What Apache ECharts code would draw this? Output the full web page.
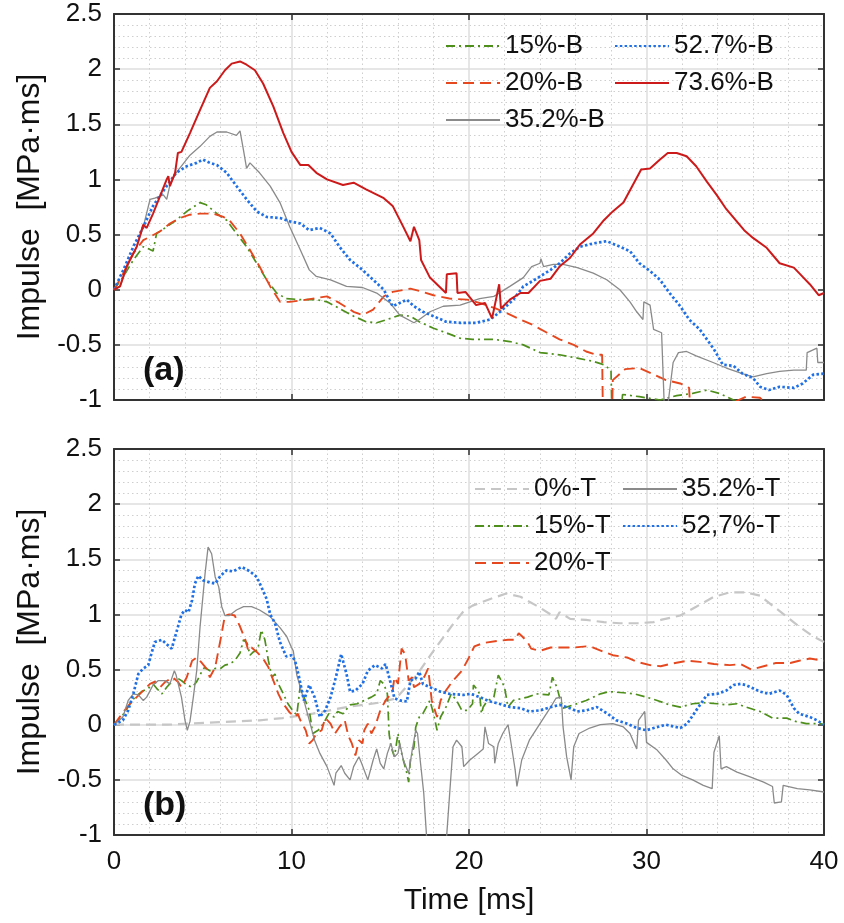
<!DOCTYPE html>
<html><head><meta charset="utf-8">
<script src="https://cdn.jsdelivr.net/npm/echarts@6/dist/echarts.min.js"></script>
<style>html,body{margin:0;padding:0;background:#fff}#c{width:844px;height:923px}</style>
</head><body><div id="c"></div>
<script>
// ---- data: [time ms, impulse MPa·ms] ----
const B15 = [[0,0],[0.53,0.12],[1.09,0.27],[1.65,0.39],[1.84,0.38],[2.2,0.35],[2.4,0.51],[2.97,0.57],[3.5,0.63],[4.1,0.71],[4.85,0.79],[5.2,0.77],[5.8,0.69],[6.35,0.63],[6.9,0.51],[7.47,0.39],[8.04,0.24],[8.6,0.09],[9.16,-0.03],[9.7,-0.08],[10.5,-0.09],[11.4,-0.09],[12.0,-0.11],[12.7,-0.17],[13.5,-0.24],[14.2,-0.29],[14.8,-0.3],[15.4,-0.27],[16.1,-0.23],[16.7,-0.24],[17.2,-0.29],[18.0,-0.35],[18.7,-0.39],[19.5,-0.44],[20.2,-0.45],[21.4,-0.45],[22.3,-0.47],[23.06,-0.5],[24.0,-0.57],[25.1,-0.59],[26.1,-0.62],[27.0,-0.65],[27.6,-0.68],[28.0,-0.73],[28.05,-1.1],[28.6,-1.05],[28.65,-0.95],[29.6,-0.97],[30.76,-1.0],[31.7,-0.96],[32.6,-0.94],[33.4,-0.91],[34.1,-0.94],[34.9,-1.0],[36,-1.05],[40,-1.1]];
const B20 = [[0,0],[0.53,0.15],[1.09,0.33],[1.65,0.45],[2.03,0.48],[2.6,0.53],[3.15,0.6],[3.7,0.65],[4.28,0.68],[4.85,0.69],[5.6,0.69],[6.16,0.66],[6.5,0.63],[7.1,0.51],[7.66,0.36],[8.2,0.21],[8.8,0.03],[9.35,-0.11],[9.9,-0.11],[10.85,-0.09],[12.0,-0.06],[12.7,-0.12],[13.5,-0.2],[14.0,-0.23],[14.6,-0.18],[15.2,-0.06],[15.7,-0.02],[16.7,0.01],[17.4,-0.02],[18.0,-0.05],[18.9,-0.08],[19.9,-0.09],[20.6,-0.12],[21.5,-0.17],[22.1,-0.21],[22.9,-0.27],[23.6,-0.32],[24.4,-0.39],[25.1,-0.45],[25.9,-0.5],[26.6,-0.56],[27.2,-0.59],[27.5,-0.59],[27.55,-1.2],[28.05,-1.2],[28.1,-0.82],[28.8,-0.72],[29.6,-0.71],[30.3,-0.76],[31.1,-0.82],[31.9,-0.85],[32.4,-0.89],[32.5,-1.2],[34.5,-1.05],[35.6,-0.97],[36.4,-0.98],[36.8,-1.05],[40,-1.15]];
const B35 = [[0,0],[0.34,0.03],[0.9,0.27],[1.28,0.39],[1.65,0.57],[2.03,0.82],[2.3,0.83],[2.78,0.86],[2.97,0.82],[3.15,0.95],[3.5,1.06],[4.28,1.22],[4.85,1.3],[5.4,1.39],[5.8,1.43],[6.35,1.43],[6.9,1.4],[7.1,1.44],[7.29,1.27],[7.47,1.1],[7.66,1.15],[8.2,1.06],[8.8,0.94],[9.35,0.79],[9.9,0.57],[10.5,0.36],[11.0,0.18],[11.4,0.12],[12.2,0.09],[13.1,0.03],[14.0,0.02],[14.8,-0.03],[15.55,-0.12],[16.1,-0.23],[16.9,-0.3],[17.2,-0.27],[17.8,-0.2],[18.55,-0.15],[19.5,-0.14],[20.6,-0.08],[21.4,-0.06],[22.3,0.03],[23.06,0.11],[23.53,0.21],[24.0,0.24],[24.05,0.28],[24.2,0.21],[24.75,0.23],[25.3,0.23],[26.1,0.2],[27.0,0.15],[27.76,0.09],[28.5,0],[29.07,-0.11],[29.45,-0.2],[29.8,-0.27],[29.85,-0.11],[30.2,-0.14],[30.4,-0.36],[30.85,-0.39],[31.0,-1.05],[31.2,-1.05],[31.5,-0.66],[31.8,-0.57],[32.26,-0.56],[32.8,-0.6],[33.75,-0.66],[34.5,-0.71],[35.4,-0.76],[36.0,-0.79],[36.77,-0.76],[37.5,-0.74],[38.3,-0.73],[39.0,-0.73],[39.05,-0.57],[39.6,-0.53],[39.65,-0.66],[40,-0.66]];
const B52 = [[0,0],[0.53,0.18],[1.09,0.39],[1.65,0.57],[2.2,0.76],[2.97,0.94],[3.5,1.06],[4.1,1.12],[4.66,1.15],[5.0,1.18],[5.4,1.15],[5.8,1.13],[6.35,1.06],[6.9,0.94],[7.47,0.82],[8.04,0.71],[8.6,0.66],[9.35,0.65],[9.9,0.62],[10.5,0.6],[11.0,0.54],[11.6,0.56],[12.2,0.51],[12.7,0.39],[13.3,0.27],[14.0,0.18],[14.6,0.09],[15.2,0],[15.7,-0.15],[16.1,-0.12],[16.5,-0.09],[16.9,-0.15],[17.4,-0.2],[18.0,-0.24],[18.7,-0.29],[19.5,-0.3],[20.4,-0.3],[21.2,-0.27],[21.75,-0.2],[22.5,-0.09],[23.06,0.03],[23.6,0.08],[24.0,0.12],[24.6,0.18],[25.1,0.24],[25.7,0.33],[26.25,0.39],[27.0,0.42],[27.76,0.44],[28.5,0.39],[29.07,0.35],[29.6,0.24],[30.2,0.17],[30.76,0.09],[31.3,-0.03],[31.9,-0.15],[32.4,-0.27],[33.0,-0.36],[33.8,-0.54],[34.3,-0.68],[34.9,-0.69],[35.4,-0.76],[36.0,-0.8],[36.4,-0.88],[36.9,-0.91],[37.5,-0.88],[38.3,-0.89],[38.8,-0.85],[39.4,-0.77],[40,-0.76]];
const B73 = [[0,0],[0.34,0.03],[0.71,0.21],[1.28,0.39],[1.65,0.59],[1.84,0.56],[2.2,0.69],[2.6,0.85],[2.97,1.0],[3.06,1.03],[3.15,0.94],[3.44,1.06],[3.6,1.24],[3.8,1.25],[4.28,1.42],[4.85,1.63],[5.4,1.83],[5.8,1.89],[6.25,1.99],[6.63,2.05],[7.1,2.07],[7.47,2.04],[7.94,1.99],[8.4,1.87],[8.98,1.66],[9.54,1.42],[10.0,1.25],[10.5,1.13],[10.95,1.13],[11.4,1.06],[12.0,1.0],[12.9,0.95],[13.5,0.97],[14.2,0.91],[15.2,0.83],[15.7,0.76],[16.3,0.57],[16.7,0.44],[16.9,0.57],[17.2,0.45],[17.3,0.27],[17.8,0.11],[18.7,-0.03],[18.75,0.14],[19.3,0.15],[19.35,-0.03],[19.8,-0.02],[20.4,-0.14],[20.9,-0.12],[21.3,-0.26],[21.7,0.05],[21.8,-0.17],[22.3,-0.09],[22.9,-0.03],[23.35,-0.03],[24.0,0.08],[24.6,0.1],[25.1,0.21],[25.7,0.29],[26.25,0.41],[27.0,0.51],[27.6,0.63],[28.1,0.71],[28.7,0.79],[29.2,0.94],[29.7,1.09],[30.2,1.1],[30.76,1.18],[31.2,1.24],[31.7,1.24],[32.26,1.21],[32.8,1.12],[33.4,0.98],[33.95,0.86],[34.5,0.73],[35.5,0.54],[36.0,0.47],[36.77,0.38],[37.5,0.24],[38.3,0.2],[38.6,0.15],[39.2,0.05],[39.7,-0.05],[40,-0.03]];

const T0 = [[0,0],[3,0],[6.9,0.03],[8.2,0.04],[9.5,0.06],[11.2,0.1],[13.1,0.16],[14.95,0.2],[15.9,0.24],[17.1,0.46],[18.0,0.67],[19.0,0.89],[19.7,1.03],[20.2,1.08],[21.2,1.14],[22.1,1.19],[22.9,1.16],[23.8,1.08],[24.6,1.0],[24.9,0.96],[25.1,1.02],[25.7,0.96],[26.6,0.95],[27.6,0.93],[28.5,0.92],[29.5,0.92],[30.4,0.93],[30.8,0.95],[31.9,0.99],[32.8,1.07],[33.8,1.16],[34.7,1.2],[35.6,1.2],[36.4,1.17],[37.1,1.08],[37.9,0.98],[38.6,0.89],[39.4,0.8],[40,0.75]];
const T15 = [[0,0],[0.6,0.11],[0.9,0.19],[1.18,0.25],[1.56,0.3],[1.93,0.33],[2.2,0.37],[2.4,0.33],[2.7,0.28],[2.97,0.34],[3.25,0.39],[3.5,0.43],[3.8,0.4],[4.1,0.36],[4.4,0.34],[4.66,0.39],[4.94,0.48],[5.1,0.52],[5.4,0.49],[5.7,0.51],[6.0,0.51],[6.25,0.54],[6.5,0.55],[6.8,0.58],[7.1,0.65],[7.3,0.77],[7.5,0.74],[7.66,0.63],[7.85,0.66],[8.1,0.68],[8.3,0.86],[8.5,0.77],[8.7,0.58],[8.9,0.43],[9.07,0.46],[9.26,0.37],[9.54,0.28],[9.8,0.19],[10.1,0.12],[10.3,0.09],[10.5,0.36],[10.7,0.25],[11.0,0.13],[11.2,-0.08],[11.5,-0.05],[11.8,0.01],[12.1,0.1],[12.4,0.07],[12.6,0.12],[12.9,0.1],[13.3,0.18],[13.7,0.19],[14.1,0.22],[14.5,0.25],[14.8,0.28],[15.0,0.4],[15.2,0.37],[15.4,0.28],[15.5,-0.08],[15.6,-0.2],[15.8,-0.29],[16.0,-0.08],[16.1,-0.19],[16.3,-0.32],[16.5,-0.44],[16.6,-0.52],[16.7,-0.32],[16.9,-0.2],[17.0,-0.02],[17.2,0.07],[17.4,0.1],[17.6,0.16],[17.8,0.22],[18.0,0.1],[18.2,-0.05],[18.4,0.07],[18.7,0.16],[19.0,0.28],[19.3,0.22],[19.6,0.13],[19.9,0.13],[20.2,0.19],[20.25,0.36],[20.4,0.33],[20.6,0.28],[20.7,0.1],[20.8,0.16],[21.0,0.21],[21.4,0.25],[21.65,0.45],[21.85,0.39],[22.0,0.34],[22.2,0.16],[22.5,0.22],[23.3,0.25],[23.8,0.28],[24.5,0.27],[24.7,0.43],[24.95,0.34],[25.1,0.25],[25.3,0.15],[25.9,0.18],[26.6,0.22],[27.4,0.28],[27.9,0.3],[28.7,0.29],[29.3,0.28],[30.0,0.25],[30.6,0.22],[31.3,0.18],[31.9,0.16],[32.6,0.19],[33.2,0.2],[34.0,0.19],[34.5,0.18],[35.1,0.19],[35.6,0.16],[36.4,0.12],[37.1,0.06],[37.9,0.06],[38.4,0.03],[39.0,0.01],[39.8,0.01],[40,0]];
const T20 = [[0,0],[0.6,0.13],[0.9,0.19],[1.28,0.25],[1.65,0.31],[2.03,0.37],[2.3,0.39],[2.6,0.34],[2.9,0.39],[3.3,0.43],[3.6,0.39],[3.8,0.34],[4.1,0.43],[4.4,0.58],[4.66,0.61],[4.9,0.57],[5.2,0.51],[5.4,0.43],[5.7,0.52],[6.0,0.77],[6.25,0.99],[6.5,1.0],[6.8,0.99],[7.1,0.89],[7.4,0.77],[7.57,0.67],[7.75,0.7],[8.04,0.66],[8.4,0.6],[8.7,0.52],[8.98,0.4],[9.26,0.28],[9.54,0.19],[9.9,0.11],[10.2,0.07],[10.35,0.1],[10.5,0.04],[10.8,-0.05],[11.0,-0.17],[11.2,-0.14],[11.4,-0.08],[11.7,-0.05],[11.9,0.06],[12.2,0.01],[12.45,-0.08],[12.7,-0.02],[13.0,0.04],[13.2,-0.1],[13.4,-0.17],[13.6,-0.28],[13.8,-0.14],[14.0,-0.17],[14.1,-0.05],[14.3,0.01],[14.5,-0.08],[14.7,-0.02],[15.0,0.13],[15.3,0.22],[15.6,0.28],[15.7,0.31],[15.8,0.43],[16.0,0.37],[16.2,0.69],[16.4,0.64],[16.6,0.4],[16.8,0.43],[16.9,0.34],[17.2,0.37],[17.5,0.44],[17.7,0.51],[17.9,0.22],[18.2,0.07],[18.4,0.22],[18.7,0.31],[19.1,0.4],[19.6,0.49],[20.0,0.61],[20.3,0.71],[20.8,0.74],[21.6,0.76],[22.2,0.77],[22.6,0.77],[22.8,0.83],[23.0,0.8],[23.3,0.75],[23.5,0.69],[24.0,0.67],[24.6,0.7],[25.1,0.7],[25.9,0.7],[26.6,0.71],[27.0,0.7],[27.6,0.66],[28.1,0.63],[28.9,0.61],[29.45,0.57],[30.2,0.54],[30.8,0.53],[31.3,0.55],[32.3,0.58],[33.0,0.57],[33.8,0.55],[34.7,0.54],[35.3,0.55],[35.9,0.5],[36.6,0.53],[37.3,0.56],[38.1,0.56],[38.6,0.58],[39.2,0.6],[40,0.58]];
const T35 = [[0,0],[0.5,0.07],[0.8,0.22],[1.09,0.28],[1.37,0.27],[1.65,0.22],[1.84,0.25],[2.2,0.36],[2.5,0.4],[2.87,0.4],[3.15,0.37],[3.4,0.49],[3.5,0.45],[3.8,0.25],[4.0,0.04],[4.13,-0.05],[4.28,0.03],[4.47,0.25],[4.66,0.49],[4.85,0.89],[5.13,1.37],[5.3,1.61],[5.5,1.55],[5.7,1.34],[5.9,1.25],[6.07,1.07],[6.25,0.99],[6.5,0.99],[6.9,1.04],[7.3,1.07],[7.75,1.07],[8.2,1.04],[8.8,0.98],[9.35,0.88],[9.73,0.8],[10.0,0.7],[10.1,0.67],[10.3,0.45],[10.6,0.28],[10.8,0.16],[11.1,-0.02],[11.3,-0.14],[11.6,-0.26],[12.0,-0.38],[12.4,-0.55],[12.5,-0.44],[12.8,-0.37],[13.0,-0.44],[13.3,-0.5],[13.5,-0.38],[13.8,-0.29],[13.95,-0.35],[14.3,-0.5],[14.6,-0.32],[14.8,-0.22],[15.0,-0.35],[15.2,-0.4],[15.4,-0.26],[15.6,-0.17],[15.8,-0.29],[16.0,-0.26],[16.1,-0.17],[16.3,-0.32],[16.6,-0.44],[16.8,-0.23],[17.0,-0.05],[17.1,-0.08],[17.25,-0.32],[17.45,-0.62],[17.6,-0.99],[17.7,-1.2],[18.65,-1.2],[18.75,-0.99],[18.9,-0.65],[19.1,-0.2],[19.3,-0.14],[19.6,-0.2],[19.7,-0.38],[20.05,-0.32],[20.5,-0.26],[20.8,-0.22],[20.9,-0.02],[21.1,-0.17],[21.4,-0.2],[21.45,-0.35],[21.65,-0.17],[21.9,-0.08],[22.2,0],[22.4,-0.2],[22.6,-0.41],[22.7,-0.56],[22.97,-0.32],[23.4,-0.14],[24.0,0.01],[24.6,0.16],[24.9,0.24],[25.2,0.25],[25.3,-0.02],[25.5,-0.29],[25.75,-0.5],[25.9,-0.2],[26.2,-0.08],[26.8,-0.03],[27.4,0],[28.1,0.01],[28.7,-0.02],[29.07,-0.08],[29.45,-0.22],[29.55,0.04],[29.9,0.12],[30.0,-0.16],[30.6,-0.23],[31.1,-0.32],[31.5,-0.4],[32.0,-0.46],[32.6,-0.5],[33.2,-0.55],[33.7,-0.58],[33.8,-0.25],[34.1,-0.1],[34.2,-0.4],[34.5,-0.38],[35.1,-0.43],[35.8,-0.47],[36.6,-0.52],[37.1,-0.56],[37.2,-0.71],[37.6,-0.7],[37.7,-0.55],[38.5,-0.58],[39.2,-0.59],[40,-0.61]];
const T52 = [[0,0],[0.5,0.04],[0.8,0.13],[1.09,0.28],[1.37,0.46],[1.65,0.51],[1.93,0.54],[2.1,0.64],[2.3,0.75],[2.7,0.77],[2.97,0.73],[3.25,0.69],[3.5,0.83],[3.8,1.0],[4.0,1.04],[4.2,1.02],[4.4,1.13],[4.56,1.28],[4.75,1.35],[5.0,1.31],[5.4,1.29],[5.7,1.28],[6.0,1.35],[6.35,1.4],[6.7,1.39],[7.2,1.43],[7.66,1.39],[8.04,1.34],[8.3,1.25],[8.6,1.14],[8.8,1.0],[9.07,0.92],[9.35,0.75],[9.7,0.62],[10.0,0.63],[10.2,0.58],[10.4,0.45],[10.7,0.22],[11.0,0.36],[11.3,0.25],[11.6,0.07],[11.9,0.13],[12.2,0.25],[12.5,0.43],[12.8,0.64],[13.1,0.46],[13.3,0.3],[13.6,0.31],[14.0,0.37],[14.3,0.49],[14.7,0.54],[15.1,0.51],[15.3,0.55],[15.6,0.37],[15.8,0.24],[16.1,0.22],[16.5,0.21],[16.7,0.4],[17.0,0.42],[17.2,0.48],[17.4,0.37],[17.8,0.34],[18.4,0.3],[18.9,0.28],[19.7,0.27],[20.1,0.28],[20.6,0.25],[21.2,0.21],[21.7,0.19],[22.3,0.16],[22.9,0.15],[23.4,0.12],[24.0,0.13],[24.6,0.16],[25.1,0.18],[25.7,0.15],[26.1,0.12],[26.6,0.13],[27.2,0.16],[27.8,0.1],[28.3,0.04],[28.9,0.01],[29.45,-0.03],[30.0,-0.05],[30.4,-0.03],[31.1,0],[31.9,-0.03],[32.3,0.01],[32.8,0.13],[33.4,0.27],[34.0,0.28],[34.5,0.31],[34.9,0.36],[35.3,0.37],[35.6,0.36],[36.0,0.33],[36.4,0.3],[36.9,0.28],[37.5,0.31],[37.9,0.27],[38.3,0.15],[38.6,0.1],[39.2,0.07],[39.6,0.04],[40,0]];

const LEG_A1 = ['15%-B','20%-B','35.2%-B'];
const LEG_A2 = ['52.7%-B','73.6%-B'];
const LEG_B1 = ['0%-T','15%-T','20%-T'];
const LEG_B2 = ['35.2%-T','52,7%-T'];

const FONT = '"Liberation Sans", Arial, Helvetica, sans-serif';
const STY = {
  g:  {color:'#4e8f1c', width:1.7, type:[9,4,2,4]},
  o:  {color:'#e5481f', width:1.9, type:[11,6]},
  k:  {color:'#8a8a8a', width:1.3, type:'solid'},
  b:  {color:'#1f6fe5', width:2.7, type:[2.5,2.3]},
  r:  {color:'#cc1a1a', width:2.0, type:'solid'},
  lg: {color:'#c6c6c6', width:2.2, type:[10,6]}
};
function ser(name, data, s, gi) {
  return {name, type:'line', data, xAxisIndex: gi*2, yAxisIndex: gi*2, symbol:'none', showSymbol:false,
    lineStyle:{color:s.color, width:s.width, type:s.type}, itemStyle:{color:s.color}, animation:false, clip:true};
}
function xAx(gi, pos, labels) {
  const main = pos === 'bottom';
  return {type:'value', gridIndex:gi, position:pos, min:0, max:40, interval:10,
    axisLine:{show:true, onZero:false, lineStyle:{color:'#333', width:2}},
    axisTick:{show:true, inside:true, length:6, lineStyle:{color:'#333', width:1.5}},
    axisLabel:{show:labels, color:'#111', fontSize:26, fontFamily:FONT, margin:14},
    splitLine:{show:main, lineStyle:{color:'#dedede', width:1.5}},
    minorTick:{show:false, splitNumber:5},
    minorSplitLine:{show:main, lineStyle:{color:'#cfcfcf', width:1, type:[1.5,3]}},
    name: (labels ? 'Time [ms]' : ''), nameLocation:'middle', nameGap:51,
    nameTextStyle:{color:'#111', fontSize:30, fontFamily:FONT}};
}
function yAx(gi, pos) {
  const main = pos === 'left';
  return {type:'value', gridIndex:gi, position:pos, min:-1, max:2.5, interval:0.5,
    axisLine:{show:true, onZero:false, lineStyle:{color:'#333', width:2}},
    axisTick:{show:true, inside:true, length:6, lineStyle:{color:'#333', width:1.5}},
    axisLabel:{show:main, color:'#111', fontSize:26, fontFamily:FONT, margin:12},
    splitLine:{show:main, lineStyle:{color:'#dedede', width:1.5}},
    minorTick:{show:false, splitNumber:5},
    minorSplitLine:{show:main, lineStyle:{color:'#cfcfcf', width:1, type:[1.5,3]}},
    name: (main ? 'Impulse  [MPa·ms]' : ''), nameLocation:'middle', nameGap:68, nameRotate:90,
    nameTextStyle:{color:'#111', fontSize:32, fontFamily:FONT}};
}
function leg(data, left, top) {
  return {data, orient:'vertical', left, top, padding:0, itemGap:11, itemWidth:54, itemHeight:14,
    selectedMode:false, itemStyle:{opacity:0, borderWidth:0},
    textStyle:{fontSize:26, fontFamily:FONT, color:'#111', lineHeight:25}};
}
const chart = echarts.init(document.getElementById('c'), null, {renderer:'canvas'});
chart.setOption({
  backgroundColor:'#fff',
  animation:false,
  title:[
    {text:'(a)', left:138, top:349, textStyle:{fontSize:34, fontWeight:'bold', fontFamily:FONT, color:'#111'}},
    {text:'(b)', left:138, top:784, textStyle:{fontSize:34, fontWeight:'bold', fontFamily:FONT, color:'#111'}}
  ],
  grid:[
    {left:114, right:20, top:14, height:386, show:false, outerBoundsMode:'none'},
    {left:114, right:20, top:449, height:386, show:false, outerBoundsMode:'none'}
  ],
  xAxis:[xAx(0,'bottom',false), xAx(0,'top',false), xAx(1,'bottom',true), xAx(1,'top',false)],
  yAxis:[yAx(0,'left'), yAx(0,'right'), yAx(1,'left'), yAx(1,'right')],
  legend:[leg(LEG_A1,445,33), leg(LEG_A2,614,33), leg(LEG_B1,474,476), leg(LEG_B2,622,476)],
  series:[
    ser('15%-B', B15, STY.g, 0),
    ser('20%-B', B20, STY.o, 0),
    ser('35.2%-B', B35, STY.k, 0),
    ser('52.7%-B', B52, STY.b, 0),
    ser('73.6%-B', B73, STY.r, 0),
    ser('0%-T', T0, STY.lg, 1),
    ser('15%-T', T15, STY.g, 1),
    ser('20%-T', T20, STY.o, 1),
    ser('35.2%-T', T35, STY.k, 1),
    ser('52,7%-T', T52, STY.b, 1)
  ]
});
</script></body></html>
